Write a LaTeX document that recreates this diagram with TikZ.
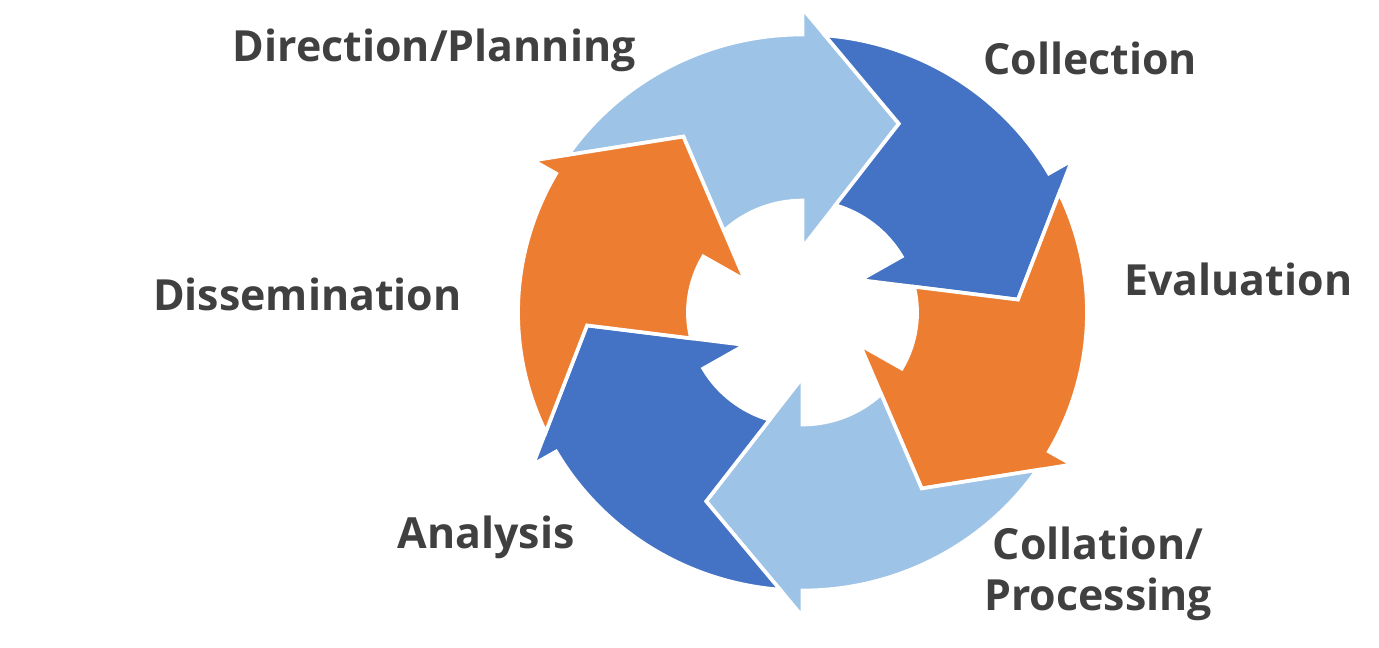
\documentclass[tikz,border=0pt]{standalone}
\usepackage{fontspec}
\setmainfont{Open Sans}
\usepackage{xcolor}
\usepackage{tikz}
\definecolor{cyclelight}{HTML}{9DC3E6}
\definecolor{cycleblue}{HTML}{4472C4}
\definecolor{cycleorange}{HTML}{ED7D31}
\definecolor{labelgray}{HTML}{404040}

\begin{document}
\begin{tikzpicture}[x=0.025cm, y=-0.025cm,
    segment/.style={draw=white, line width=2.6pt},
    steplabel/.style={inner sep=0pt, text=labelgray, font=\fontsize{30.5}{36.3}\selectfont\bfseries}]
  \useasboundingbox (0,0) rectangle (1379,647);
  % six arrow segments, clockwise from the top
  \begin{scope}[shift={(802.5,312.5)}, x=0.02557cm, y=0.025cm]
    \foreach \a/\c in {90/cyclelight, 30/cycleblue, -30/cycleorange,
                       -90/cyclelight, -150/cycleblue, -210/cycleorange}
      \filldraw[segment, fill=\c] (\a+55.47:278)
        arc[start angle=\a+55.47, end angle=\a, radius=278]
        -- (\a:304) -- (\a-26.5:211) -- (\a:65) -- (\a:112)
        arc[start angle=\a, end angle=\a+43.31, radius=112]
        -- (\a+33.5:211) -- cycle;
  \end{scope}
  \node[steplabel, anchor=base east] (planning) at (636,61) {Direction/Planning};
  \node[steplabel, anchor=base west] (collection) at (983,74) {Collection};
  \node[steplabel, anchor=base west] (evaluation) at (1124,295) {Evaluation};
  \node[steplabel, align=center] (processing) at (1098,574) {Collation/\\Processing};
  \node[steplabel, anchor=base east] (analysis) at (575,548) {Analysis};
  \node[steplabel, anchor=base east] (dissemination) at (462,310) {Dissemination};
\end{tikzpicture}
\end{document}
